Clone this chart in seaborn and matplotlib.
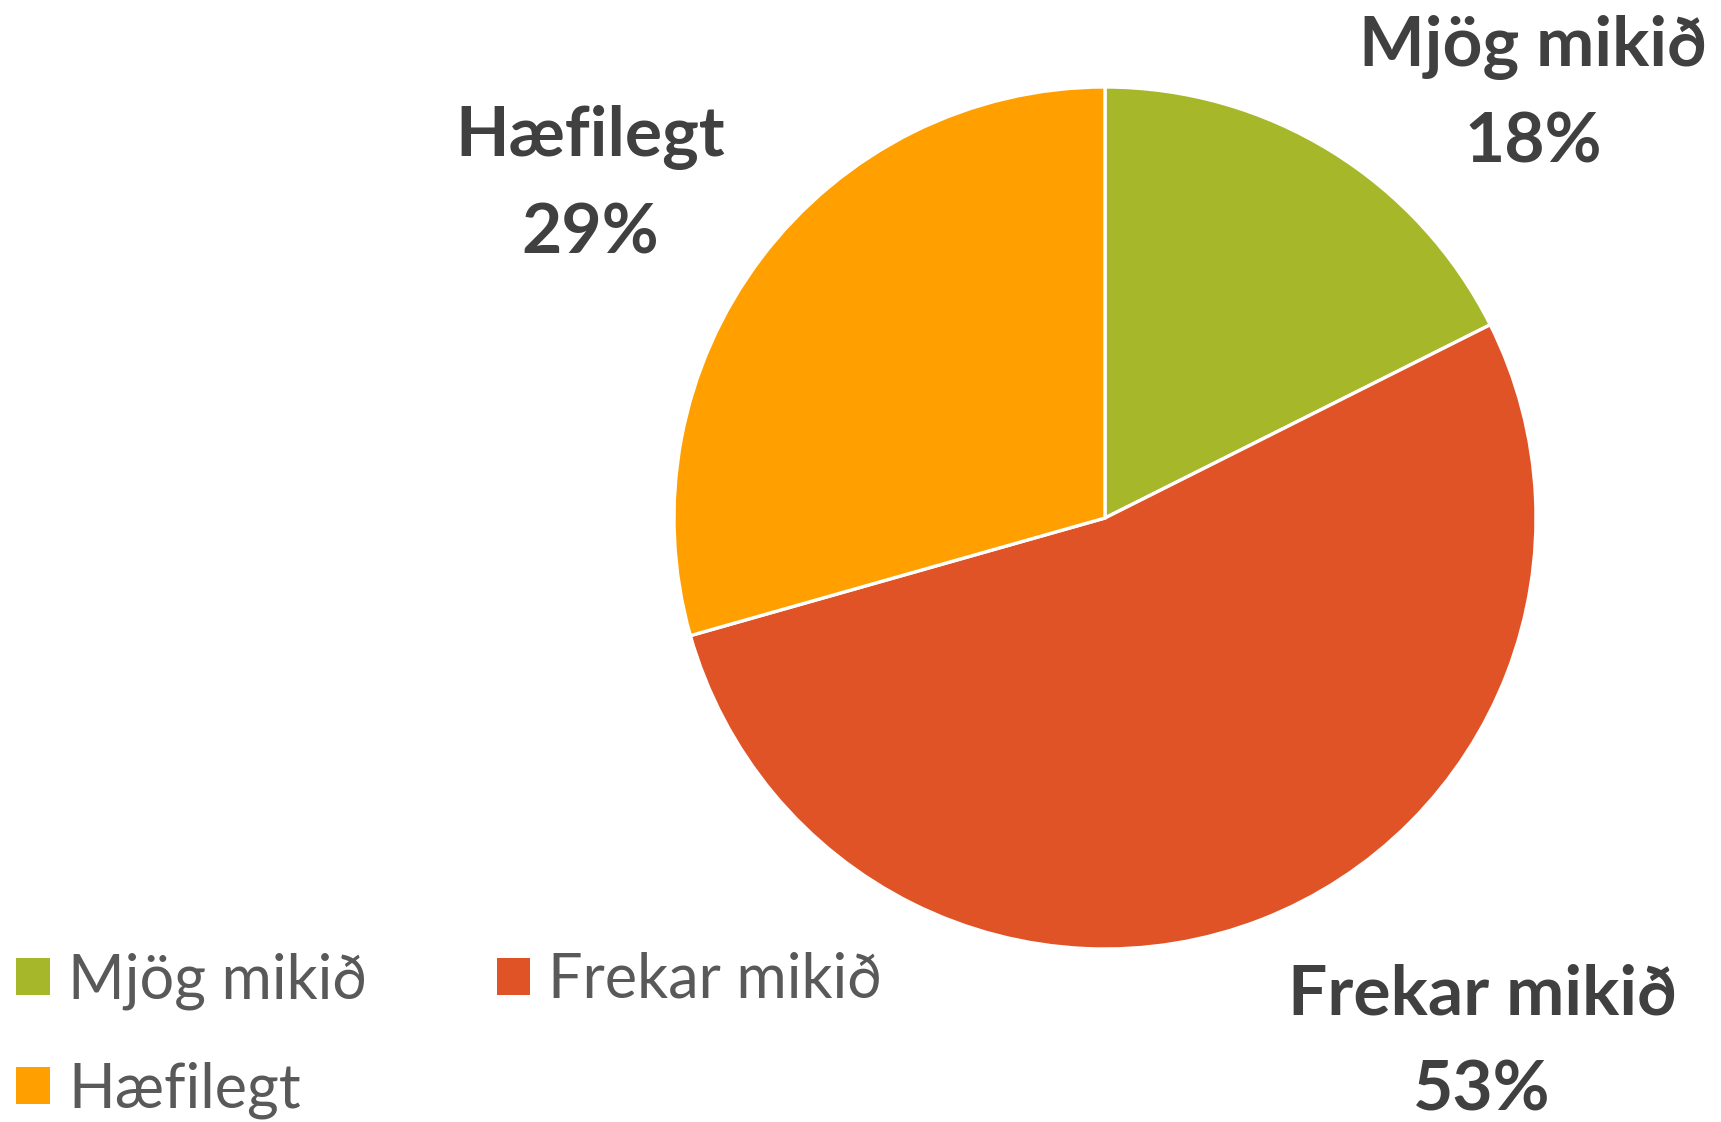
import matplotlib
matplotlib.use("Agg")
import matplotlib.pyplot as plt
from matplotlib.patches import Patch
import seaborn as sns

categories = ["Mjög mikið", "Frekar mikið", "Hæfilegt"]
values = [17.6, 53.0, 29.4]
pct_labels = ["18%", "53%", "29%"]
colors = ["#A7B72A", "#E05327", "#FF9F00"]

sns.set_theme(style="white")
plt.rcParams["font.family"] = ["Lato", "DejaVu Sans"]

W, H = 1721, 1122
fig = plt.figure(figsize=(W / 100, H / 100), dpi=100)
fig.patch.set_facecolor("white")

cx, cy, r = 1105, 518, 431
ax = fig.add_axes([(cx - r) / W, (H - cy - r) / H, 2 * r / W, 2 * r / H])
wedges, _ = ax.pie(values, colors=colors, startangle=90, counterclock=False,
                   radius=1.0, wedgeprops=dict(edgecolor="white", linewidth=2.4))
ax.set_xlim(-1, 1)
ax.set_ylim(-1, 1)
ax.set_aspect("equal")
ax.axis("off")

label_pos = {  # pixel centres of the two label lines
    "Mjög mikið": (1533, 47, 143),
    "Frekar mikið": (1482, 995, 1091),
    "Hæfilegt": (590, 137, 234),
}
for cat, pct in zip(categories, pct_labels):
    x, y1, y2 = label_pos[cat]
    fig.text(x / W, 1 - y1 / H, cat, ha="center", va="center", fontsize=50,
             fontweight="bold", color="#404040")
    fig.text(x / W, 1 - y2 / H, pct, ha="center", va="center", fontsize=50,
             fontweight="bold", color="#404040")

handles = {c: Patch(facecolor=col, edgecolor="none") for c, col in zip(categories, colors)}
order = ["Mjög mikið", "Hæfilegt", "Frekar mikið"]
leg = fig.legend([handles[c] for c in order], order, ncol=2, frameon=False,
                 loc="lower left", bbox_to_anchor=(13 / W, 0.0),
                 fontsize=44, handlelength=0.55, handleheight=0.55,
                 handletextpad=0.3, columnspacing=2.12, labelspacing=0.85,
                 borderpad=0.05, borderaxespad=0.0)
for t in leg.get_texts():
    t.set_color("#595959")

fig.savefig("out.png", dpi=100, facecolor="white")
